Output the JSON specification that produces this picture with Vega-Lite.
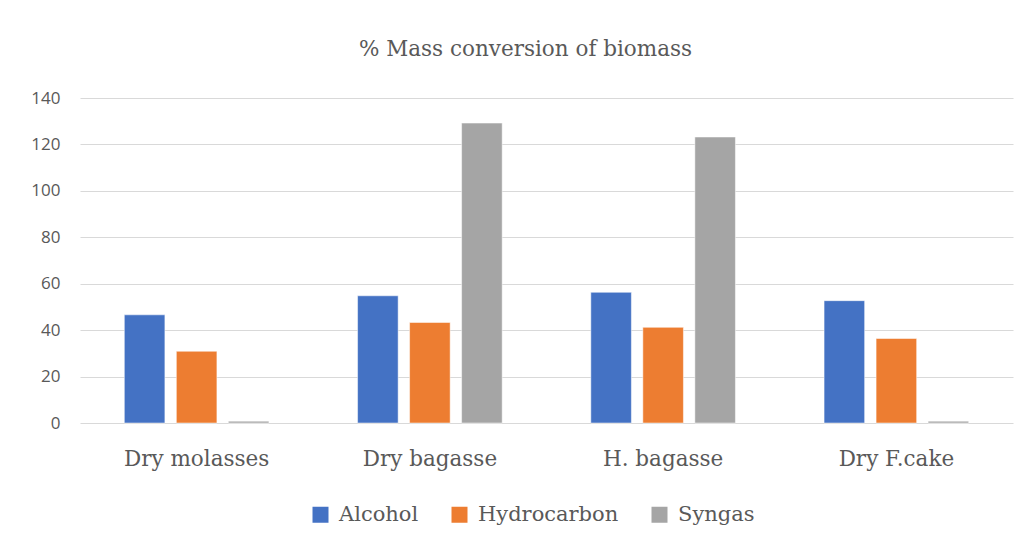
{
  "$schema": "https://vega.github.io/schema/vega-lite/v6.json",
  "autosize": {"type": "none"},
  "width": 933,
  "height": 325,
  "padding": {"left": 80, "top": 98, "right": 12, "bottom": 125},
  "background": "white",
  "title": {
    "text": "% Mass conversion of biomass",
    "font": "DejaVu Serif",
    "fontSize": 21.5,
    "fontWeight": "normal",
    "color": "#595959",
    "anchor": "middle",
    "dx": -21,
    "offset": 29
  },
  "data": {
    "values": [
      {"feed": "Dry molasses", "product": "Alcohol", "value": 46.6},
      {"feed": "Dry molasses", "product": "Hydrocarbon", "value": 30.9},
      {"feed": "Dry molasses", "product": "Syngas", "value": 0.8},
      {"feed": "Dry bagasse", "product": "Alcohol", "value": 54.8},
      {"feed": "Dry bagasse", "product": "Hydrocarbon", "value": 43.3},
      {"feed": "Dry bagasse", "product": "Syngas", "value": 129.2},
      {"feed": "H. bagasse", "product": "Alcohol", "value": 56.3},
      {"feed": "H. bagasse", "product": "Hydrocarbon", "value": 41.2},
      {"feed": "H. bagasse", "product": "Syngas", "value": 123.2},
      {"feed": "Dry F.cake", "product": "Alcohol", "value": 52.7},
      {"feed": "Dry F.cake", "product": "Hydrocarbon", "value": 36.4},
      {"feed": "Dry F.cake", "product": "Syngas", "value": 0.8}
    ]
  },
  "mark": {"type": "bar", "stroke": "white", "strokeWidth": 0.5},
  "encoding": {
    "x": {
      "field": "feed",
      "type": "nominal",
      "sort": ["Dry molasses", "Dry bagasse", "H. bagasse", "Dry F.cake"],
      "scale": {"paddingInner": 0.38, "paddingOuter": 0.19},
      "axis": {
        "title": null,
        "labelAngle": 0,
        "labelFont": "DejaVu Serif",
        "labelFontSize": 21.5,
        "labelColor": "#595959",
        "labelPadding": 25,
        "ticks": false,
        "domain": false
      }
    },
    "xOffset": {
      "field": "product",
      "type": "nominal",
      "sort": ["Alcohol", "Hydrocarbon", "Syngas"],
      "scale": {"paddingInner": 0.22, "paddingOuter": 0}
    },
    "y": {
      "field": "value",
      "type": "quantitative",
      "scale": {"domain": [0, 140], "nice": false},
      "axis": {
        "title": null,
        "values": [0, 20, 40, 60, 80, 100, 120, 140],
        "labelFont": "Open Sans",
        "labelFontSize": 17,
        "labelColor": "#595959",
        "labelPadding": 20,
        "ticks": false,
        "domain": false,
        "gridColor": "#d9d9d9",
        "gridWidth": 1.2
      }
    },
    "color": {
      "field": "product",
      "type": "nominal",
      "sort": ["Alcohol", "Hydrocarbon", "Syngas"],
      "scale": {"domain": ["Alcohol", "Hydrocarbon", "Syngas"], "range": ["#4472c4", "#ed7d31", "#a5a5a5"]},
      "legend": {
        "title": null,
        "orient": "none",
        "legendX": 230,
        "legendY": 406,
        "direction": "horizontal",
        "symbolType": "square",
        "symbolSize": 256,
        "symbolStrokeWidth": 0,
        "labelFont": "DejaVu Serif",
        "labelFontSize": 21,
        "labelColor": "#595959",
        "columnPadding": 30,
        "labelOffset": 8,
        "padding": 0
      }
    }
  },
  "config": {
    "view": {"stroke": null}
  }
}
